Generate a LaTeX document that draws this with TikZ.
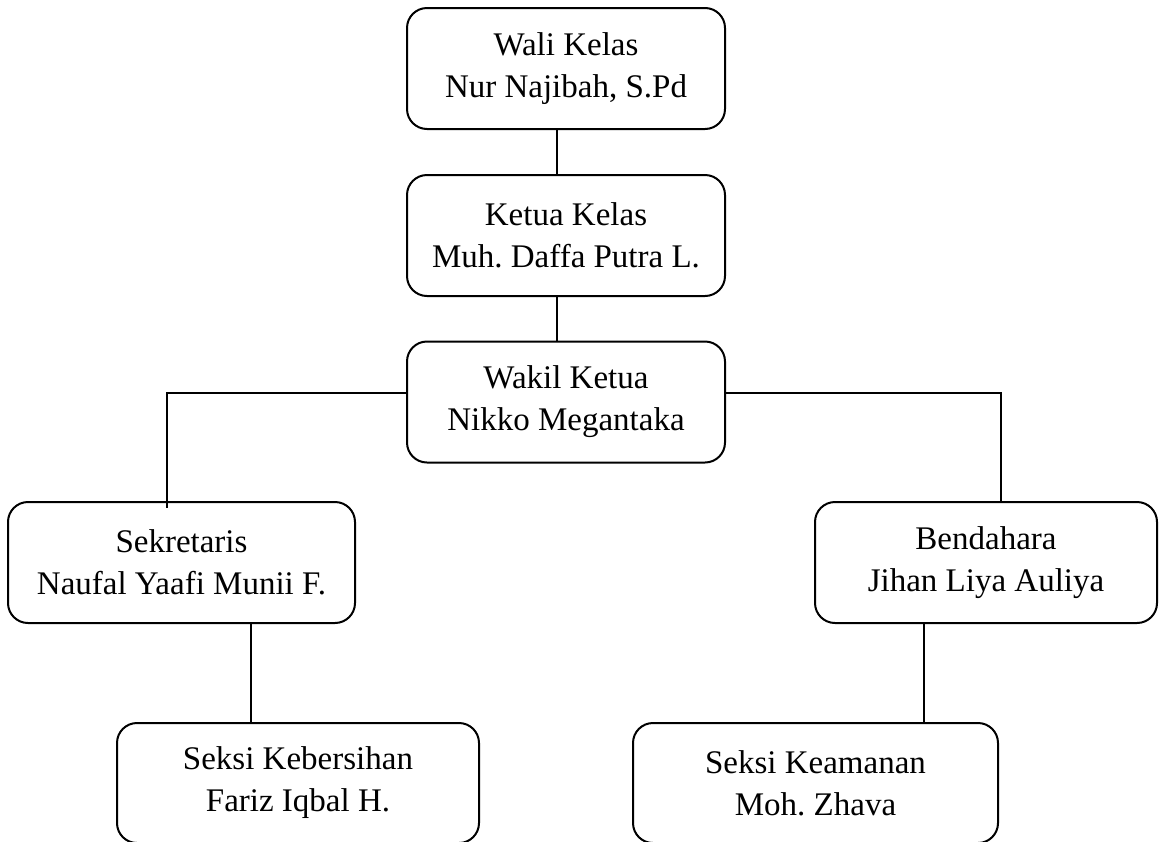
\documentclass[tikz,border=0pt]{standalone}
\usepackage{fontspec}
\setmainfont{Liberation Serif}
\frenchspacing
\begin{document}
\begin{tikzpicture}[x=0.5pt,y=-0.5pt,
  jabatan/.style={draw, line width=1pt, rounded corners=10pt, align=center,
    minimum height=60.5pt, inner sep=0pt,
    font=\fontsize{16.5}{21}\selectfont},
  garis/.style={line width=1pt}]
\useasboundingbox (0,0) rectangle (1159,841);
\node[jabatan, minimum width=159pt] (wali) at (566,68.5) {Wali Kelas\\Nur Najibah, S.Pd};
\node[jabatan, minimum width=159pt] (ketua) at (566,235.5) {Ketua Kelas\\Muh. Daffa Putra L.};
\node[jabatan, minimum width=159pt] (wakil) at (566,402) {Wakil Ketua\\Nikko Megantaka};
\node[jabatan, minimum width=173.5pt] (sek) at (181.5,562.5) {Sekretaris\\Naufal Yaafi Munii F.};
\node[jabatan, minimum width=171pt] (bend) at (986,562.5) {Bendahara\\Jihan Liya Auliya};
\node[jabatan, minimum width=181pt, minimum height=60pt] (bersih) at (298,783) {Seksi Kebersihan\\Fariz Iqbal H.};
\node[jabatan, minimum width=182.5pt, minimum height=60pt] (aman) at (815.5,783) {Seksi Keamanan\\Moh. Zhava};
\coordinate (sekin) at (167,508);
\draw[garis] ([xshift=-4.5pt]wali.south) -- ([xshift=-4.5pt]ketua.north);
\draw[garis] ([xshift=-4.5pt]ketua.south) -- ([xshift=-4.5pt]wakil.north);
\draw[garis] ([yshift=4.5pt]wakil.west) -| (sekin);
\draw[garis] ([yshift=4.5pt]wakil.east) -| ([xshift=7.5pt]bend.north);
\draw[garis] ([xshift=34.75pt]sek.south) -- ([xshift=34.75pt]sek.south |- bersih.north);
\draw[garis] ([xshift=-31pt]bend.south) -- ([xshift=-31pt]bend.south |- aman.north);
\end{tikzpicture}
\end{document}
